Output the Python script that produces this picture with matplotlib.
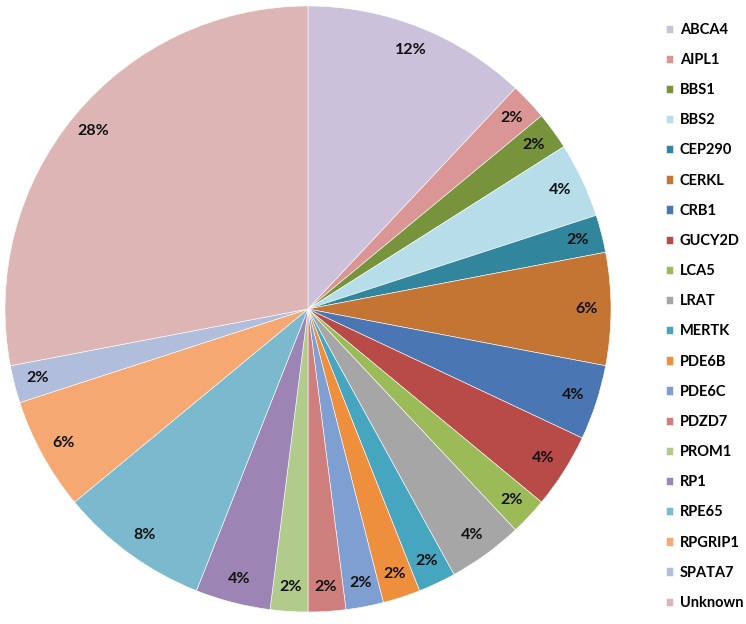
import matplotlib
matplotlib.use("Agg")
import matplotlib.pyplot as plt
from matplotlib.font_manager import FontProperties

genes = ["ABCA4", "AIPL1", "BBS1", "BBS2", "CEP290", "CERKL", "CRB1", "GUCY2D",
         "LCA5", "LRAT", "MERTK", "PDE6B", "PDE6C", "PDZD7", "PROM1", "RP1",
         "RPE65", "RPGRIP1", "SPATA7", "Unknown"]
percents = [12, 2, 2, 4, 2, 6, 4, 4, 2, 4, 2, 2, 2, 2, 2, 4, 8, 6, 2, 28]
colors = ["#CCC1DA", "#D99694", "#77933C", "#B7DEE8", "#31859C", "#C47433",
          "#4A76B4", "#B84A47", "#9BBB59", "#A6A6A6", "#46A5BF", "#EE8F3D",
          "#7F9ED2", "#CE7F7D", "#B0CB8A", "#9C85B5", "#7BBACE", "#F6A872",
          "#B0BEDC", "#DDB5B5"]

plt.rcParams['font.family'] = ['Lato', 'DejaVu Sans']

W, H = 746, 624
fig = plt.figure(figsize=(W / 100, H / 100), dpi=100)
cx, cy, r = 308, 309, 303
ax = fig.add_axes([(cx - r) / W, (H - cy - r) / H, 2 * r / W, 2 * r / H])

wedges, texts, autotexts = ax.pie(
    percents, colors=colors, startangle=90, counterclock=False,
    autopct=lambda p: f"{p:.0f}%", pctdistance=0.92, radius=1,
    wedgeprops=dict(edgecolor="white", linewidth=0.4),
    textprops=dict(fontsize=11.5, fontweight="bold", color="#111111"))
ax.set_xlim(-1, 1)
ax.set_ylim(-1, 1)
ax.set_aspect("equal")
ax.axis("off")

legend_font = FontProperties(family=['Lato', 'DejaVu Sans'], weight='bold', size=10.5)
fig.legend(wedges, genes, loc="upper left", bbox_to_anchor=(660 / W, 1 - 17 / H),
           frameon=False, prop=legend_font,
           handlelength=0.5, handleheight=0.5, handletextpad=0.45,
           labelspacing=1.108, borderaxespad=0)

fig.savefig("out.png", dpi=100)
